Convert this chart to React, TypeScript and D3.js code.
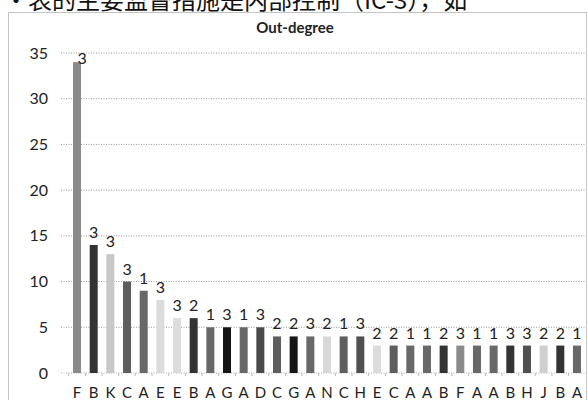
import React from "react";
import * as d3 from "d3";

const categories = ["F","B","K","C","A","E","E","B","A","G","A","D","C","G","A","N","C","H","E","C","A","A","B","F","A","A","B","H","J","B","A"];
const values = [34,14,13,10,9,8,6,6,5,5,5,5,4,4,4,4,4,4,3,3,3,3,3,3,3,3,3,3,3,3,3];
const annotations = ["3","3","3","3","1","3","3","2","1","3","1","3","2","2","3","2","1","3","2","2","1","1","2","3","1","1","3","3","2","2","1"];
const yTicks = [0,5,10,15,20,25,30,35];
const title = "Out-degree";
const headerText = "·表的主要监督措施是内部控制（IC-3），如";

const letterColors: Record<string, string> = {
  F: "#8a8a8a", B: "#333333", K: "#c8c8c8", C: "#5e5e5e", A: "#686868",
  E: "#dcdcdc", G: "#151515", D: "#4a4a4a", N: "#d8d8d8", H: "#505050", J: "#cfcfcf",
};

export default function App() {
  const W = 588, H = 400;
  const x = d3.scaleBand<number>().domain(d3.range(categories.length)).range([68.7, 585.3]).paddingInner(0.52).paddingOuter(0.26);
  const y = d3.scaleLinear().domain([0, 35]).range([373, 53]);
  const bw = x.bandwidth();
  const font = "Lato, 'Open Sans', sans-serif";
  return (
    <svg width={W} height={H} style={{ position: "absolute", left: 0, top: 0, background: "#fff" }}>
      <rect x={0} y={0} width={W} height={H} fill="#fff" />
      <text x={4} y={9} fontSize={24} fontFamily="'Noto Sans CJK SC', sans-serif" fill="#111">{headerText}</text>
      <rect x={8.5} y={12.5} width={578} height={400} fill="#fff" stroke="#888" strokeDasharray="1,1" />
      <text x={295} y={33} textAnchor="middle" fontSize={15} fontWeight="bold" fontFamily={font} fill="#222">{title}</text>
      {yTicks.map((t) => (
        <g key={t}>
          {t > 0 && <line x1={61} x2={585} y1={y(t)} y2={y(t)} stroke="#999" strokeDasharray="1,1.5" />}
          <text x={48} y={y(t) + 5.5} textAnchor="end" fontSize={16} fontFamily={font} fill="#222">{t}</text>
        </g>
      ))}
      <line x1={61} x2={585} y1={y(0)} y2={y(0)} stroke="#aaa" strokeDasharray="1,1.5" />
      {categories.map((c, i) => (
        <line key={"t" + i} x1={(x(i) as number) - (x.step() - bw) / 2} x2={(x(i) as number) - (x.step() - bw) / 2} y1={y(0)} y2={y(0) + 3} stroke="#bbb" />
      ))}
      {values.map((v, i) => (
        <rect key={"b" + i} x={x(i)} y={y(v)} width={bw} height={y(0) - y(v)} fill={letterColors[categories[i]]} />
      ))}
      {annotations.map((a, i) => (
        <text key={"a" + i} x={(x(i) as number) + bw / 2 + (i === 0 ? 5 : 0)} y={y(values[i]) - (i === 0 ? -2 : 7)} textAnchor="middle" fontSize={16} fontFamily={font} fill="#222">{a}</text>
      ))}
      {categories.map((c, i) => (
        <text key={"c" + i} x={(x(i) as number) + bw / 2} y={398} textAnchor="middle" fontSize={15} fontFamily={font} fill="#222">{c}</text>
      ))}
    </svg>
  );
}
